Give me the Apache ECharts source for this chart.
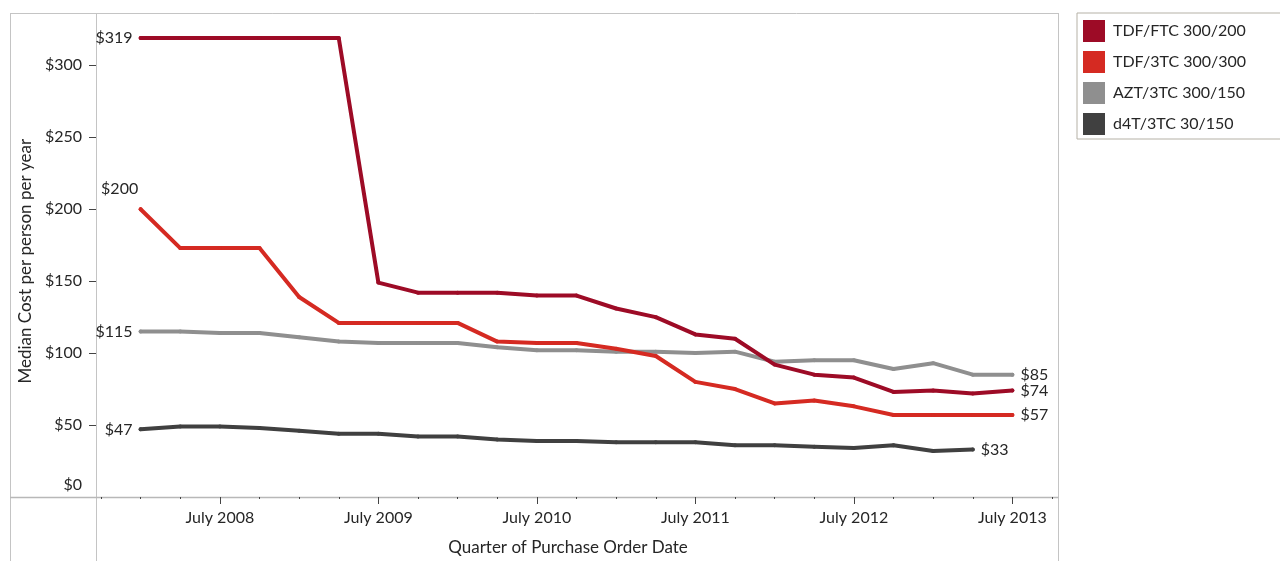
<!DOCTYPE html>
<html>
<head>
<meta charset="utf-8">
<script src="https://cdn.jsdelivr.net/npm/echarts@6/dist/echarts.min.js"></script>
<style>
html,body{margin:0;padding:0;background:#fff;}
#chart{width:1280px;height:561px;}
</style>
</head>
<body>
<div id="chart"></div>
<script>
// Quarters from Oct 2007 to Oct 2013
const quarters = [
  'October 2007',
  'January 2008','April 2008','July 2008','October 2008',
  'January 2009','April 2009','July 2009','October 2009',
  'January 2010','April 2010','July 2010','October 2010',
  'January 2011','April 2011','July 2011','October 2011',
  'January 2012','April 2012','July 2012','October 2012',
  'January 2013','April 2013','July 2013','October 2013'
];
const seriesNames = ['TDF/FTC 300/200', 'TDF/3TC 300/300', 'AZT/3TC 300/150', 'd4T/3TC 30/150'];
const tdfFtc = [null, 319,319,319,319,319,319,149,142,142,142,140,140,131,125,113,110,92,85,83,73,74,72,74, null];
const tdf3tc = [null, 200,173,173,173,139,121,121,121,121,108,107,107,103,98,80,75,65,67,63,57,57,57,57, null];
const azt3tc = [null, 115,115,114,114,111,108,107,107,107,104,102,102,101,101,100,101,94,95,95,89,93,85,85, null];
const d4t3tc = [null, 47,49,49,48,46,44,44,42,42,40,39,39,38,38,38,36,36,35,34,36,32,33, null, null];
const yTicks = [0, 50, 100, 150, 200, 250, 300];

const FONT = 'Lato';
const FS = 16;
const TEXT = '#262626';
const colors = ['#9d0b26', '#d52a22', '#8f8f8f', '#404040'];
const seriesData = [tdfFtc, tdf3tc, azt3tc, d4t3tc];

function firstIdx(a){ for (let i=0;i<a.length;i++) if (a[i]!=null) return i; return -1; }
function lastIdx(a){ for (let i=a.length-1;i>=0;i--) if (a[i]!=null) return i; return -1; }

function buildData(arr, sIdx) {
  const f = firstIdx(arr), l = lastIdx(arr);
  return arr.map((v, i) => {
    if (i === f) {
      const lab = sIdx === 1
        ? {show: true, position: 'top', distance: 10, offset: [-21, 0]}
        : {show: true, position: 'left', distance: 6};
      return {value: v, label: lab};
    }
    if (i === l) {
      return {value: v, label: {show: true, position: 'right', distance: 6}};
    }
    return v;
  });
}

const chart = echarts.init(document.getElementById('chart'), null, {renderer: 'canvas'});

const gridLeft = 101, gridRight = 228, gridTop = 13.5, gridBottom = 63.5;
const frameColor = '#c4c4c4';

const option = {
  backgroundColor: '#ffffff',
  animation: false,
  textStyle: {fontFamily: FONT},
  grid: {left: gridLeft, right: gridRight, top: gridTop, bottom: gridBottom, containLabel: false},
  legend: {
    orient: 'vertical',
    left: 1077, top: 13,
    padding: [7, 60, 4, 6],
    itemWidth: 22, itemHeight: 22, itemGap: 9,
    icon: 'rect',
    borderColor: '#b5b1a6', borderWidth: 1,
    textStyle: {fontFamily: FONT, fontSize: FS, color: TEXT, padding: [0, 0, 0, 3]},
    data: seriesNames
  },
  xAxis: [
    {
      type: 'category', data: quarters, boundaryGap: false, position: 'bottom',
      axisLine: {show: false},
      axisTick: {show: true, length: 2, interval: 0, lineStyle: {color: '#444', width: 1}},
      axisLabel: {show: false},
      splitLine: {show: false}
    },
    {
      type: 'category', data: quarters, boundaryGap: false, position: 'bottom',
      axisLine: {show: false},
      axisTick: {show: true, length: 7, interval: (i, v) => v.indexOf('July') === 0, lineStyle: {color: '#444', width: 1}},
      axisLabel: {
        show: true, margin: 13, interval: (i, v) => v.indexOf('July') === 0,
        fontFamily: FONT, fontSize: FS, color: TEXT
      },
      splitLine: {show: false},
      name: 'Quarter of Purchase Order Date',
      nameLocation: 'middle', nameGap: 42,
      nameTextStyle: {fontFamily: FONT, fontSize: 17, color: TEXT, padding: [0, 17, 0, 0]}
    }
  ],
  yAxis: {
    type: 'value', min: 0, max: 336, offset: 5,
    axisLine: {show: false},
    axisTick: {show: true, length: 7, customValues: yTicks.slice(1), lineStyle: {color: '#444', width: 1}},
    axisLabel: {
      show: true, margin: 14, customValues: yTicks,
      fontFamily: FONT, fontSize: FS, color: TEXT,
      formatter: v => v === 0 ? '{z|$0}' : '$' + v,
      rich: {z: {fontFamily: FONT, fontSize: FS, color: TEXT, padding: [0, 0, 25, 0]}}
    },
    splitLine: {show: false},
    name: 'Median Cost per person per year',
    nameLocation: 'middle', nameGap: 58,
    nameTextStyle: {fontFamily: FONT, fontSize: 17, color: TEXT, padding: [0, 12, 0, 0]}
  },
  series: seriesNames.map((name, k) => ({
    name: name,
    type: 'line',
    xAxisIndex: 0,
    data: buildData(seriesData[k], k),
    color: colors[k],
    symbol: 'circle', symbolSize: 4, showSymbol: true, showAllSymbol: true,
    itemStyle: {color: colors[k], borderWidth: 0},
    lineStyle: {color: colors[k], width: 4, cap: 'round', join: 'round'},
    label: {show: false, fontFamily: FONT, fontSize: FS, color: TEXT, formatter: p => '$' + p.value},
    emphasis: {disabled: true},
    connectNulls: false,
    z: 10 - k
  })),
  graphic: [
    {type: 'line', shape: {x1: 10, y1: 13.5, x2: 1058.5, y2: 13.5}, style: {stroke: frameColor, lineWidth: 1}, silent: true},
    {type: 'line', shape: {x1: 10.5, y1: 13, x2: 10.5, y2: 561}, style: {stroke: frameColor, lineWidth: 1}, silent: true},
    {type: 'line', shape: {x1: 96.5, y1: 13, x2: 96.5, y2: 561}, style: {stroke: frameColor, lineWidth: 1}, silent: true},
    {type: 'line', shape: {x1: 1058.5, y1: 13, x2: 1058.5, y2: 561}, style: {stroke: frameColor, lineWidth: 1}, silent: true},
    {type: 'line', shape: {x1: 10, y1: 497.5, x2: 1058.5, y2: 497.5}, style: {stroke: '#b8b8b8', lineWidth: 1.5}, silent: true}
  ]
};
chart.setOption(option);
</script>
</body>
</html>
